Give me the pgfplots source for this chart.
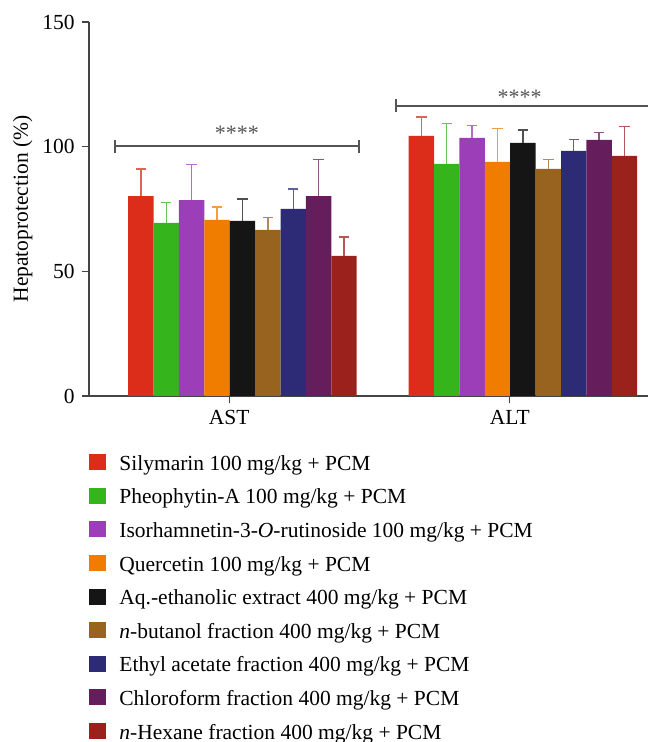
\documentclass[border=0pt]{standalone}
\usepackage{fontspec}
\setmainfont{Liberation Serif}
\usepackage{pgfplots}
\usepackage{pgfplotstable}
\pgfplotsset{compat=1.18}

\definecolor{cSil}{RGB}{220,45,27}
\definecolor{cPheo}{RGB}{53,181,27}
\definecolor{cIso}{RGB}{155,62,184}
\definecolor{cQue}{RGB}{240,124,0}
\definecolor{cAq}{RGB}{21,21,21}
\definecolor{cBut}{RGB}{151,99,31}
\definecolor{cEth}{RGB}{45,42,118}
\definecolor{cChl}{RGB}{102,29,91}
\definecolor{cHex}{RGB}{155,33,28}
\definecolor{axisgray}{RGB}{68,68,68}
\definecolor{sig}{RGB}{85,85,85}

% mean and upper error (SD) per group, AST at 0, ALT at 1 (bars sit half a bar right of the tick)
\pgfplotstableread{
x     sil   silE pheo pheoE iso   isoE que  queE aq    aqE but  butE eth  ethE chl   chlE hex  hexE
0.047 80.2  10.8 69.4 8.1   78.6  14.2 70.6 5.2  70.2  8.8 66.6 4.9  75.0 8.0  80.2  14.6 56.2 7.6
1.047 104.3 7.6  93.1 16.1  103.5 4.9  93.9 13.3 101.5 5.2 91.1 3.7  98.3 4.5  102.7 3.1  96.3 11.9
}\data

\newcommand{\series}[3]{%
  \addplot[fill=#2, draw=none,
    error bars/.cd, y dir=plus, y explicit,
    error bar style={draw=#2!75!white, line width=0.7pt},
    error mark options={rotate=90, mark size=2.6pt, draw=#2!75!white, line width=0.7pt}]
    table[x=x, y=#1, y error=#1E] {\data};
  \addlegendentry{#3}}

\begin{document}
\begin{tikzpicture}
\begin{axis}[
    scale only axis,
    width=280.5pt, height=187pt,
    ybar=0pt, bar width=12.7pt,
    xmin=-0.5, xmax=1.5,
    ymin=0, ymax=150,
    ytick={0,50,100,150},
    xtick={0,1}, xticklabels={AST,ALT},
    axis x line*=bottom, axis y line*=left,
    axis line style={axisgray, line width=0.65pt},
    tick style={axisgray, line width=0.65pt},
    tick align=outside, major tick length=3.7pt,
    font=\fontsize{10.75}{12}\selectfont,
    /pgf/number format/assume math mode=true,
    ylabel={Hepatoprotection (\%)},
    ylabel style={xshift=0pt, yshift=-2pt},
    clip=false,
    legend image code/.code={\fill[#1] (0pt,0pt) rectangle (8.5pt,8pt);},
    legend style={at={(0,0)}, anchor=north west, yshift=-28.9pt,
        draw=none, fill=none, inner sep=0pt, row sep=7.3pt,
        nodes={inner sep=0pt},
        /tikz/every odd column/.append style={column sep=6.5pt},
        cells={anchor=base west}, font=\fontsize{10.75}{12}\selectfont},
]
\series{sil}{cSil}{Silymarin 100 mg/kg + PCM}
\series{pheo}{cPheo}{Pheophytin-A 100 mg/kg + PCM}
\series{iso}{cIso}{Isorhamnetin-3-\textit{O}-rutinoside 100 mg/kg + PCM}
\series{que}{cQue}{Quercetin 100 mg/kg + PCM}
\series{aq}{cAq}{Aq.-ethanolic extract 400 mg/kg + PCM}
\series{but}{cBut}{\textit{n}-butanol fraction 400 mg/kg + PCM}
\series{eth}{cEth}{Ethyl acetate fraction 400 mg/kg + PCM}
\series{chl}{cChl}{Chloroform fraction 400 mg/kg + PCM}
\series{hex}{cHex}{\textit{n}-Hexane fraction 400 mg/kg + PCM}

% significance brackets
\draw[sig, line width=1pt] (axis cs:-0.408,100.1) -- (axis cs:0.4615,100.1);
\draw[sig, line width=1pt] ([yshift=-3.2pt]axis cs:-0.408,100.1) -- ([yshift=3.2pt]axis cs:-0.408,100.1);
\draw[sig, line width=1pt] ([yshift=-3.2pt]axis cs:0.4615,100.1) -- ([yshift=3.2pt]axis cs:0.4615,100.1);
\node[sig, font=\fontsize{11}{12}\selectfont] at (axis cs:0.027,105.3) {****};
\draw[sig, line width=1pt] (axis cs:0.596,116.4) -- (axis cs:1.5,116.4);
\draw[sig, line width=1pt] ([yshift=-3.2pt]axis cs:0.596,116.4) -- ([yshift=3.2pt]axis cs:0.596,116.4);
\node[sig, font=\fontsize{11}{12}\selectfont] at (axis cs:1.035,119.8) {****};
\end{axis}
\pgfresetboundingbox
\path[use as bounding box] (-44.5pt,-173pt) rectangle (279pt,198pt);
\end{tikzpicture}
\end{document}
